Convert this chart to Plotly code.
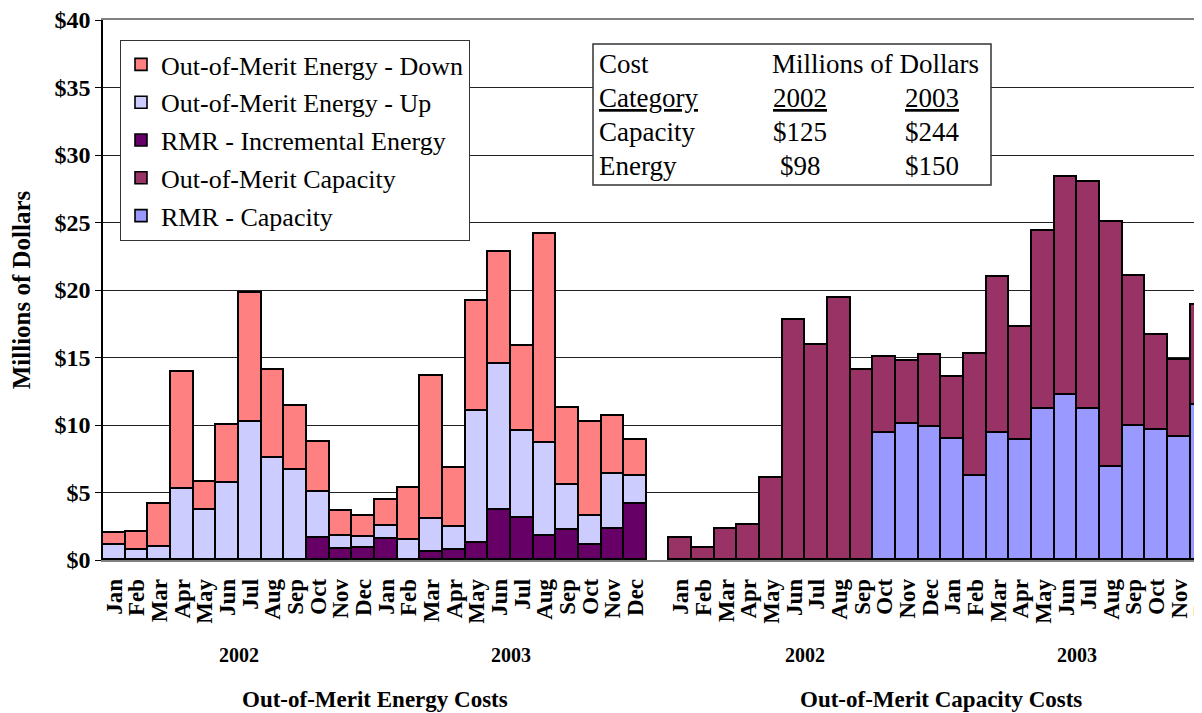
import plotly.graph_objects as go

# ---------------- data ----------------
months = ["Jan", "Feb", "Mar", "Apr", "May", "Jun", "Jul", "Aug", "Sep", "Oct", "Nov", "Dec"]
years = ["2002", "2003"]

# Out-of-Merit Energy Costs (Jan 2002 - Dec 2003), millions of dollars (stack segments)
energy_rmr_incremental = [0, 0, 0, 0, 0, 0, 0, 0, 0, 1.63, 0.84, 0.91,
                          1.56, 0, 0.57, 0.74, 1.28, 3.68, 3.09, 1.75, 2.22, 1.11, 2.32, 4.15]
energy_up = [1.10, 0.74, 0.99, 5.28, 3.68, 5.73, 10.20, 7.58, 6.64, 3.38, 0.94, 0.79,
             0.98, 1.48, 2.47, 1.68, 9.76, 10.81, 6.49, 6.89, 3.34, 2.17, 4.05, 2.07]
energy_down = [0.90, 1.36, 3.13, 8.67, 2.10, 4.27, 9.58, 6.49, 4.74, 3.71, 1.87, 1.53,
               1.88, 3.83, 10.59, 4.39, 8.17, 8.30, 6.30, 15.48, 5.67, 6.97, 4.30, 2.69]

# Out-of-Merit Capacity Costs (Jan 2002 - Dec 2003)
capacity_rmr = [0, 0, 0, 0, 0, 0, 0, 0, 0, 9.43, 10.05, 9.88,
                8.94, 6.22, 9.38, 8.89, 11.16, 12.25, 11.16, 6.91, 9.93, 9.63, 9.14, 11.48]
capacity_oom = [1.60, 0.91, 2.32, 2.59, 6.07, 17.78, 15.93, 19.41, 14.05, 5.63, 4.69, 5.31,
                4.59, 9.04, 11.56, 8.37, 13.21, 16.15, 16.86, 18.15, 11.13, 7.06, 5.70, 7.41]

# summary table
table_years = ["2002", "2003"]
table_capacity = ["$125", "$244"]
table_energy = ["$98", "$150"]

# ---------------- layout helpers ----------------
# the page body adds an 8 px margin, so the figure is drawn 8 px smaller
OFF = 8
W, H = 1202 - OFF, 713 - OFF
PL, PT, PW, PH = 103 - OFF, 20 - OFF, 1099, 540


def px(x):  # screen x (reference pixels) -> paper x
    return (x - OFF - PL) / PW


def py(y):  # screen y (reference pixels) -> paper y
    return (PT + PH - (y - OFF)) / PH


n = len(months) * len(years)
energy_x = list(range(n))
capacity_x = list(range(n + 1, 2 * n + 1))
month_labels = months * len(years)

FONT = "Liberation Serif, Times New Roman, serif"
outline = dict(color="black", width=1.6)

fig = go.Figure()

traces = [
    ("RMR - Incremental Energy", energy_x, energy_rmr_incremental, "#660066", 3),
    ("Out-of-Merit Energy - Up", energy_x, energy_up, "#CCCCFF", 2),
    ("Out-of-Merit Energy - Down", energy_x, energy_down, "#FF8080", 1),
    ("RMR - Capacity", capacity_x, capacity_rmr, "#9999FF", 5),
    ("Out-of-Merit Capacity", capacity_x, capacity_oom, "#993366", 4),
]
for name, xs, ys, col, rank in traces:
    fig.add_trace(go.Bar(
        x=xs, y=ys, name=name, width=1,
        marker=dict(color=col, line=outline),
        legendrank=rank, legendgroup=name,
    ))

annotations = []
# year labels
for gx in (energy_x, capacity_x):
    for i, yr in enumerate(years):
        seg = gx[12 * i:12 * i + 12]
        annotations.append(dict(
            x=sum(seg) / len(seg), y=py(655), xref="x", yref="paper",
            text="<b>%s</b>" % yr, showarrow=False,
            font=dict(family=FONT, size=20, color="black"),
            xanchor="center", yanchor="middle"))
# group titles
for gx, title in ((energy_x, "Out-of-Merit Energy Costs"), (capacity_x, "Out-of-Merit Capacity Costs")):
    annotations.append(dict(
        x=sum(gx) / len(gx), y=py(699), xref="x", yref="paper",
        text="<b>%s</b>" % title, showarrow=False,
        font=dict(family=FONT, size=23, color="black"),
        xanchor="center", yanchor="middle"))

# table text
tfont = dict(family=FONT, size=27, color="black")
col_x = [px(800), px(932)]
rows_y = [py(64), py(98), py(132), py(166)]
annotations.append(dict(x=px(597), y=rows_y[0], xref="paper", yref="paper", text="Cost",
                        showarrow=False, font=tfont, xanchor="left", yanchor="middle"))
annotations.append(dict(x=px(770), y=rows_y[0], xref="paper", yref="paper", text="Millions of Dollars",
                        showarrow=False, font=tfont, xanchor="left", yanchor="middle"))
annotations.append(dict(x=px(597), y=rows_y[1], xref="paper", yref="paper", text="<u>Category</u>",
                        showarrow=False, font=tfont, xanchor="left", yanchor="middle"))
annotations.append(dict(x=px(597), y=rows_y[2], xref="paper", yref="paper", text="Capacity",
                        showarrow=False, font=tfont, xanchor="left", yanchor="middle"))
annotations.append(dict(x=px(597), y=rows_y[3], xref="paper", yref="paper", text="Energy",
                        showarrow=False, font=tfont, xanchor="left", yanchor="middle"))
for j in range(len(table_years)):
    annotations.append(dict(x=col_x[j], y=rows_y[1], xref="paper", yref="paper",
                            text="<u>%s</u>" % table_years[j], showarrow=False, font=tfont,
                            xanchor="center", yanchor="middle"))
    annotations.append(dict(x=col_x[j], y=rows_y[2], xref="paper", yref="paper",
                            text=table_capacity[j], showarrow=False, font=tfont,
                            xanchor="center", yanchor="middle"))
    annotations.append(dict(x=col_x[j], y=rows_y[3], xref="paper", yref="paper",
                            text=table_energy[j], showarrow=False, font=tfont,
                            xanchor="center", yanchor="middle"))

shapes = [dict(type="rect", xref="paper", yref="paper",
               x0=px(593), x1=px(991), y0=py(185), y1=py(44),
               line=dict(color="#333333", width=1.5), fillcolor="white", layer="above")]

fig.update_layout(
    width=W, height=H,
    margin=dict(l=PL, r=W - PL - PW, t=PT, b=H - PT - PH, pad=0, autoexpand=False),
    paper_bgcolor="white", plot_bgcolor="white",
    barmode="stack", bargap=0,
    font=dict(family=FONT, color="black"),
    showlegend=True,
    legend=dict(
        x=px(120), y=py(40), xanchor="left", yanchor="top",
        bgcolor="white", bordercolor="#333333", borderwidth=1,
        font=dict(family=FONT, size=26, color="black"),
        traceorder="grouped", tracegroupgap=1,
    ),
    xaxis=dict(
        range=[-0.5, capacity_x[-1]], automargin=False,
        tickmode="array", tickvals=energy_x + capacity_x, ticktext=month_labels * 2,
        tickangle=-90, ticks="", showgrid=False, zeroline=False, ticklabelstandoff=8,
        ticklabeloverflow="allow",
        showline=True, mirror=True, linecolor="#808080", linewidth=1.5,
        tickfont=dict(family=FONT, size=23, color="black", weight="bold"),
    ),
    yaxis=dict(
        range=[0, 40], dtick=5, tickprefix="$", automargin=False,
        ticklabeloverflow="allow",
        showgrid=True, gridcolor="#222222", gridwidth=1, zeroline=False,
        showline=True, linecolor="black", linewidth=1.5,
        ticks="outside", ticklen=6, tickcolor="black",
        tickfont=dict(family=FONT, size=24, color="black", weight="bold"),
        title=dict(text="Millions of Dollars", standoff=22,
                   font=dict(family=FONT, size=25, color="black", weight="bold")),
    ),
    annotations=annotations,
    shapes=shapes,
)

fig.write_html("out.html")
